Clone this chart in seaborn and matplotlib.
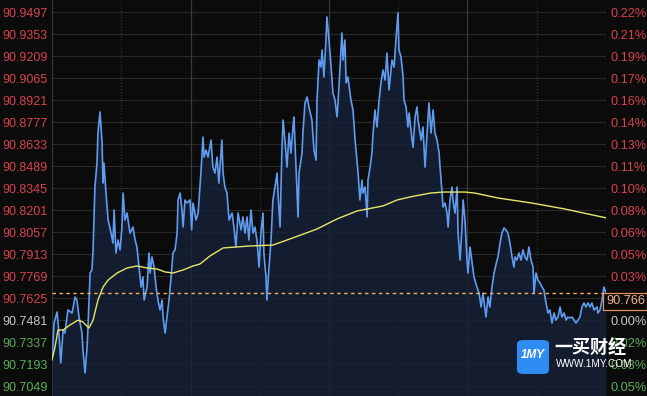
import matplotlib
matplotlib.use('Agg')
import matplotlib.pyplot as plt
from matplotlib.patches import FancyBboxPatch
import seaborn as sns
import pandas as pd

OUTPUT = 'out.png'

# minutes since open / price
minutes = [0, 0.9, 2.2, 3.0, 3.8, 4.8, 5.6, 6.9, 8.7, 10.0, 10.8, 11.7, 13.0, 13.4, 14.3, 15.2, 15.6,
           16.5, 17.3, 17.8, 18.6, 19.5, 19.9, 20.8, 21.7, 22.1, 22.5, 23.4, 24.3, 25.6, 26.4, 26.9,
           27.7, 28.6, 29.5, 30.3, 30.8, 31.6, 32.5, 33.8, 35.1, 36.0, 36.8, 37.7, 38.6, 39.4, 39.9,
           41.2, 42.0, 42.5, 43.3, 44.2, 45.1, 45.9, 46.8, 47.7, 48.1, 49.0, 49.8, 50.7, 51.6, 52.4,
           53.3, 54.2, 54.6, 55.5, 56.3, 56.8, 57.6, 58.5, 59.8, 60.5, 61.1, 62.4, 63.3, 64.6, 65.4,
           65.9, 66.7, 67.6, 68.9, 69.7, 70.6, 71.5, 72.3, 73.6, 74.1, 74.9, 75.8, 76.7, 78.0, 78.8,
           79.7, 80.6, 81.9, 82.7, 83.6, 84.5, 85.3, 86.2, 87.1, 87.9, 88.8, 89.7, 90.5, 91.4, 91.8,
           92.7, 93.1, 94.0, 94.9, 95.7, 96.6, 97.5, 97.9, 98.8, 99.6, 100.1, 100.9, 101.8, 102.7,
           103.5, 104.4, 104.8, 105.7, 106.6, 107.0, 108.3, 108.7, 109.6, 110.5, 111.3, 112.6, 113.5,
           114.4, 114.8, 115.7, 116.5, 117.0, 117.8, 118.7, 119.1, 120.0, 120.9, 121.7, 122.6, 123.5,
           124.3, 125.6, 126.1, 126.9, 127.4, 128.2, 129.5, 130.4, 131.3, 132.1, 132.6, 133.4, 134.3,
           134.7, 135.6, 136.5, 136.9, 137.8, 138.6, 139.1, 139.9, 140.8, 141.7, 142.5, 143.4, 144.3,
           145.1, 146.0, 147.3, 148.2, 149.0, 149.9, 150.3, 151.2, 152.1, 152.5, 153.4, 154.2, 154.7,
           156.0, 156.4, 157.3, 158.1, 158.6, 159.9, 160.7, 161.6, 162.5, 163.3, 164.2, 165.1, 165.9,
           166.8, 167.7, 168.1, 169.0, 169.4, 170.3, 171.1, 171.6, 172.4, 173.3, 173.7, 174.6, 175.5,
           175.9, 176.8, 177.6, 178.1, 178.9, 179.8, 180.2, 181.1, 182.0, 182.8, 184.1, 185.0, 185.9,
           186.7, 188.0, 188.9, 189.7, 190.6, 191.5, 192.8, 193.2, 194.1, 194.9, 195.8, 196.7, 197.5,
           198.4, 199.3, 200.1, 200.6, 201.4, 202.3, 203.2, 204.0, 204.9, 205.8, 206.6, 207.5, 208.4,
           208.8, 209.7, 210.5, 211.4, 212.3, 213.1, 214.0, 214.9, 215.7, 216.6, 217.5, 218.3, 219.2,
           220.1, 220.9, 221.8, 222.7, 223.5, 224.4, 225.3, 226.1, 227.0, 227.9, 228.7, 229.6, 230.5,
           231.3, 232.2, 233.1, 233.9, 234.8, 236.1, 236.5, 237.4, 238.3, 239.1, 240.0]

price = [90.7220, 90.7462, 90.7534, 90.7396, 90.7200, 90.7416, 90.7396, 90.7547, 90.7527, 90.7632,
         90.7612, 90.7501, 90.7396, 90.7285, 90.7135, 90.7305, 90.7436, 90.7789, 90.7809, 90.7940,
         90.8352, 90.8509, 90.8705, 90.8843, 90.8639, 90.8378, 90.8509, 90.8312, 90.8136, 90.8050,
         90.7985, 90.8201, 90.7920, 90.8005, 90.7940, 90.8090, 90.8312, 90.8136, 90.8182, 90.8050,
         90.8090, 90.8005, 90.7959, 90.7828, 90.7697, 90.7763, 90.7612, 90.7697, 90.7920, 90.7789,
         90.7894, 90.7828, 90.7697, 90.7612, 90.7547, 90.7612, 90.7501, 90.7396, 90.7501, 90.7612,
         90.7763, 90.7920, 90.7940, 90.8050, 90.8267, 90.8312, 90.8201, 90.8090, 90.8267, 90.8247,
         90.8267, 90.8071, 90.8247, 90.8136, 90.8182, 90.8463, 90.8679, 90.8548, 90.8594, 90.8548,
         90.8659, 90.8482, 90.8443, 90.8548, 90.8378, 90.8659, 90.8443, 90.8352, 90.8312, 90.8136,
         90.8182, 90.8090, 90.7959, 90.8182, 90.8071, 90.8156, 90.8050, 90.8156, 90.8005, 90.8201,
         90.8050, 90.8090, 90.8005, 90.7828, 90.8050, 90.8182, 90.7920, 90.7763, 90.7612, 90.7828,
         90.8005, 90.8267, 90.8352, 90.8443, 90.8312, 90.8090, 90.8594, 90.8790, 90.8659, 90.8482,
         90.8705, 90.8574, 90.8745, 90.8810, 90.8482, 90.8156, 90.8443, 90.8574, 90.8705, 90.8902,
         90.8941, 90.8876, 90.8790, 90.8594, 90.8528, 90.8921, 90.9183, 90.9137, 90.9249, 90.9072,
         90.9314, 90.9465, 90.9314, 90.9137, 90.8967, 90.8921, 90.8810, 90.9006, 90.9360, 90.9183,
         90.9314, 90.9033, 90.9072, 90.8921, 90.8856, 90.8659, 90.8528, 90.8443, 90.8267, 90.8397,
         90.8312, 90.8352, 90.8156, 90.8397, 90.8482, 90.8574, 90.8705, 90.8856, 90.8745, 90.8921,
         90.9033, 90.9118, 90.9052, 90.9229, 90.8987, 90.9183, 90.9137, 90.9314, 90.9491, 90.9249,
         90.9203, 90.9072, 90.8921, 90.8876, 90.8745, 90.8836, 90.8659, 90.8613, 90.8810, 90.8876,
         90.8790, 90.8659, 90.8745, 90.8482, 90.8705, 90.8902, 90.8705, 90.8856, 90.8705, 90.8659,
         90.8574, 90.8482, 90.8312, 90.8221, 90.8247, 90.8182, 90.8090, 90.8267, 90.8352, 90.8267,
         90.8182, 90.8352, 90.8050, 90.7874, 90.8090, 90.8267, 90.8136, 90.7874, 90.7789, 90.7959,
         90.7854, 90.7763, 90.7697, 90.7658, 90.7567, 90.7658, 90.7501, 90.7632, 90.7567, 90.7697,
         90.7789, 90.7874, 90.7894, 90.7985, 90.8050, 90.8084, 90.8071, 90.8050, 90.7985, 90.7894,
         90.7828, 90.7894, 90.7874, 90.7920, 90.7874, 90.7940, 90.7894, 90.7874, 90.7959, 90.7874,
         90.7828, 90.7658, 90.7789, 90.7743, 90.7724, 90.7697, 90.7678, 90.7593, 90.7527, 90.7547,
         90.7462, 90.7527, 90.7481, 90.7501, 90.7567, 90.7501, 90.7527, 90.7481, 90.7501, 90.7495,
         90.7501, 90.7481, 90.7462, 90.7481, 90.7501, 90.7567, 90.7593, 90.7567, 90.7593, 90.7567,
         90.7593, 90.7547, 90.7567, 90.7527, 90.7547, 90.7612, 90.7697, 90.7660]

avg_minutes = [0, 1.3, 2.6, 4.8, 7.8, 11.3, 13.4, 16.0, 17.8, 19.9, 22.1, 24.3, 28.2, 32.5, 36.8,
               41.2, 45.5, 49.0, 52.4, 56.8, 61.1, 64.1, 68.4, 74.1, 85.7, 95.7, 103.1, 114.8,
               123.5, 132.1, 143.4, 149.5, 155.1, 163.8, 169.4, 178.9, 183.3, 193.2, 207.9, 222.2, 240.0]
avg_price = [90.7220, 90.7305, 90.7416, 90.7416, 90.7449, 90.7481, 90.7468, 90.7429, 90.7481,
             90.7612, 90.7697, 90.7743, 90.7789, 90.7822, 90.7835, 90.7822, 90.7815, 90.7796,
             90.7789, 90.7809, 90.7835, 90.7848, 90.7900, 90.7953, 90.7966, 90.7972, 90.8012,
             90.8077, 90.8143, 90.8195, 90.8228, 90.8267, 90.8287, 90.8312, 90.8319, 90.8319,
             90.8312, 90.8280, 90.8247, 90.8208, 90.8150]

levels = [90.9497, 90.9353, 90.9209, 90.9065, 90.8921, 90.8777, 90.8633, 90.8489, 90.8345,
          90.8201, 90.8057, 90.7913, 90.7769, 90.7625, 90.7481, 90.7337, 90.7193, 90.7049]
pct_labels = ['0.22%', '0.21%', '0.19%', '0.17%', '0.16%', '0.14%', '0.13%', '0.11%', '0.10%',
              '0.08%', '0.06%', '0.05%', '0.03%', '0.02%', '0.00%', '0.02%', '0.03%', '0.05%']
base_price = 90.7481
last_price = 90.766

BG = '#0b0b0b'
RED = '#d8434e'
GREEN = '#5cae5c'
GREY = '#c9c9c9'


def label_color(v):
    if v > base_price + 1e-6:
        return RED
    if v < base_price - 1e-6:
        return GREEN
    return GREY


def main():
    sns.set_theme(style='dark')
    plt.rcParams['font.family'] = ['Liberation Sans', 'DejaVu Sans']

    df = pd.DataFrame({'minute': minutes, 'price': price})
    avg_df = pd.DataFrame({'minute': avg_minutes, 'avg': avg_price})

    fig = plt.figure(figsize=(6.47, 3.96), dpi=100, facecolor=BG)
    ax = fig.add_axes([52 / 647, 0, 554 / 647, 1])
    ax.set_facecolor(BG)
    ymin, ymax = 90.6984, 90.9576
    ax.set_xlim(0, 240)
    ax.set_ylim(ymin, ymax)

    # grid
    for v in levels:
        ax.axhline(v, color='#2a2a2a', lw=0.8, zorder=1)
    for m in range(0, 241, 30):
        if m % 60 == 0:
            ax.axvline(m, color='#383838', lw=0.9, zorder=1)
        else:
            ax.axvline(m, color='#303030', lw=0.9, ls=(0, (1, 1.5)), zorder=1)

    # area + lines
    ax.fill_between(df['minute'], df['price'], ymin, color='#17223a', alpha=0.8, lw=0, zorder=2)
    sns.lineplot(data=df, x='minute', y='price', ax=ax, color='#5f9cf0', lw=1.2, zorder=4,
                 estimator=None, sort=False)
    sns.lineplot(data=avg_df, x='minute', y='avg', ax=ax, color='#e6e66a', lw=1.0, zorder=5,
                 estimator=None, sort=False)
    ax.axhline(last_price, color='#f2b060', lw=1.0, ls=(0, (2.5, 2.5)), zorder=6)

    # left axis
    ax.set_yticks(levels)
    ax.set_yticklabels([f'{v:.4f}' for v in levels], fontsize=9.0)
    for t, v in zip(ax.get_yticklabels(), levels):
        t.set_color(label_color(v))
    ax.tick_params(axis='y', length=0, pad=3)
    ax.set_xticks([])
    ax.set_xlabel('')
    ax.set_ylabel('')
    for s in ax.spines.values():
        s.set_visible(False)

    # right axis
    ax2 = ax.twinx()
    ax2.set_ylim(ymin, ymax)
    ax2.set_yticks(levels)
    ax2.set_yticklabels(pct_labels, fontsize=9.2)
    for t, v in zip(ax2.get_yticklabels(), levels):
        t.set_color(label_color(v))
        # this row sits under the last-price box in the original
        if abs(v - 90.7625) < 1e-6:
            t.set_visible(False)
    ax2.tick_params(axis='y', length=0, pad=3)
    ax2.grid(False)
    for s in ax2.spines.values():
        s.set_visible(False)

    # last price box
    ax2.text(1.0, 90.7605, f'{last_price:.3f}', transform=ax2.get_yaxis_transform(),
             color='#f2b49a', fontsize=9.2, va='center', ha='left', zorder=10,
             bbox=dict(boxstyle='square,pad=0.2', fc=BG, ec='#e8905a', lw=0.9))

    # watermark
    fig.patches.append(FancyBboxPatch((517 / 647, 22 / 396), 32 / 647, 34 / 396,
                                      boxstyle='round,pad=0,rounding_size=0.01',
                                      transform=fig.transFigure, fc='#2e8cf2', ec='none', zorder=20))
    fig.text(533 / 647, 41 / 396, '1MY', color='white', fontsize=8.5, fontweight='bold',
             style='italic', ha='center', va='center', zorder=21)
    fig.text(554 / 647, 48 / 396, '一买财经', color='white', fontsize=13, fontweight='bold',
             ha='left', va='center', family=['Noto Sans CJK SC', 'DejaVu Sans'], zorder=21)
    fig.text(556 / 647, 32 / 396, 'WWW.1MY.COM', color='white', fontsize=7.2,
             ha='left', va='center', zorder=21)

    fig.savefig(OUTPUT, dpi=100, facecolor=BG)


if __name__ == '__main__':
    main()
